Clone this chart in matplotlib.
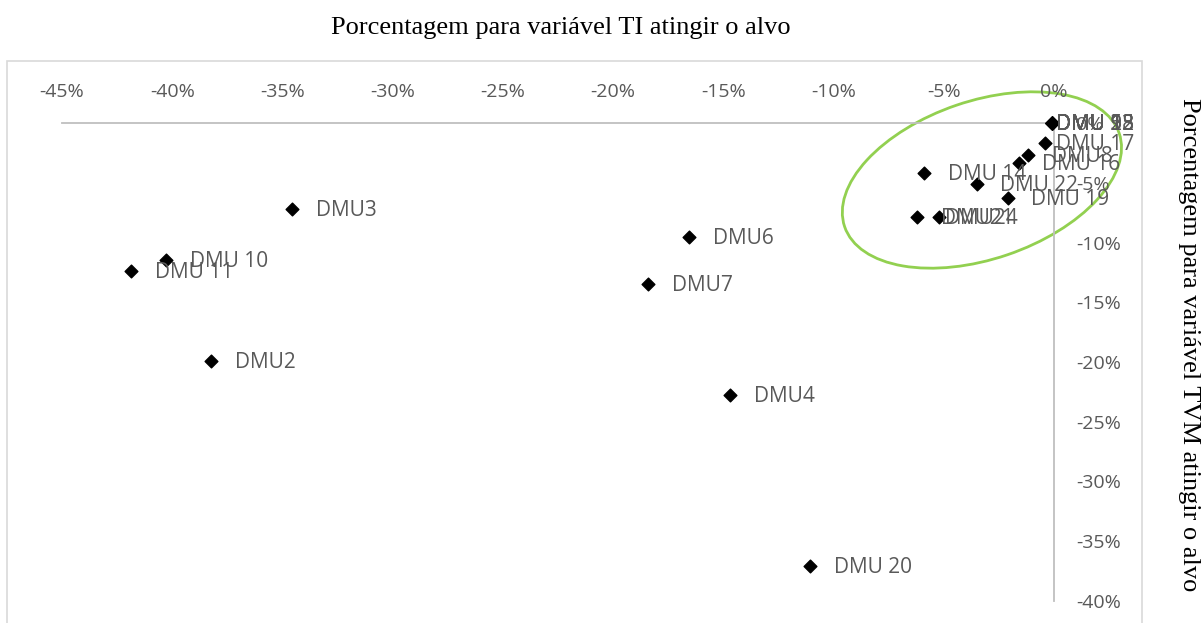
import matplotlib.pyplot as plt
from matplotlib.patches import Ellipse, Rectangle
from matplotlib.transforms import ScaledTranslation
from matplotlib.ticker import PercentFormatter

plt.rcParams['axes.unicode_minus'] = False

# dados: percentual para TI (x) e TVM (y) atingirem o alvo
dmu = ['DMU3', 'DMU 10', 'DMU 11', 'DMU2', 'DMU6', 'DMU7', 'DMU4', 'DMU 20',
       'DMU 14', 'DMU 22', 'DMU 19', 'DMU 17', 'DMU8', 'DMU 16', 'DMU21', 'DMU24',
       'DMU 1', 'DMU 5', 'DMU 9', 'DMU 12', 'DMU 13', 'DMU 15', 'DMU 18', 'DMU 23']
ti = [-0.3456, -0.4026, -0.4185, -0.3822, -0.1654, -0.1840, -0.1470, -0.1106,
      -0.0590, -0.0350, -0.0210, -0.0043, -0.0116, -0.0161, -0.0620, -0.0520,
      -0.001, -0.001, -0.001, -0.001, -0.001, -0.001, -0.001, -0.001]
tvm = [-0.0719, -0.1145, -0.1237, -0.1990, -0.0953, -0.1346, -0.2280, -0.3704,
       -0.0418, -0.0510, -0.0627, -0.0167, -0.0268, -0.0334, -0.0786, -0.0786,
       0, 0, 0, 0, 0, 0, 0, 0]

xticks = [-0.45, -0.40, -0.35, -0.30, -0.25, -0.20, -0.15, -0.10, -0.05, 0]
yticks = [0, -0.05, -0.10, -0.15, -0.20, -0.25, -0.30, -0.35, -0.40]

cinza = '#595959'
fig = plt.figure(figsize=(12.02, 6.23), dpi=100)
ax = fig.add_axes([62 / 1202, 22 / 623, (1054 - 62) / 1202, (601 - 123) / 623])

# borda da área do gráfico
fig.patches.append(Rectangle((7 / 1202, -0.01), (1142 - 7) / 1202, (623 - 61) / 623 + 0.01,
                             transform=fig.transFigure, fill=False,
                             edgecolor='#D9D9D9', linewidth=1.2))

ax.scatter(ti, tvm, marker='D', s=42, color='black', zorder=3, clip_on=False)

# deslocamento dos rótulos (pontos)
desloc = {'DMU 17': 8, 'DMU24': 4}
for i, nome in enumerate(dmu):
    dx = desloc.get(nome, 17)
    if tvm[i] == 0:
        dx = 3
    ax.annotate(nome, (ti[i], tvm[i]), xytext=(dx, -1), textcoords='offset points',
                ha='left', va='center', fontsize=15, color=cinza,
                fontfamily='Open Sans', annotation_clip=False)

ax.set_xlim(-0.45, 0)
ax.set_ylim(-0.40, 0)
ax.set_xticks(xticks)
ax.set_yticks(yticks)
ax.xaxis.set_major_formatter(PercentFormatter(1.0, decimals=0))
ax.yaxis.set_major_formatter(PercentFormatter(1.0, decimals=0))
ax.xaxis.tick_top()
ax.yaxis.tick_right()
ax.tick_params(length=0, labelsize=14, labelcolor=cinza)
ax.tick_params(axis='x', pad=16)
ax.tick_params(axis='y', pad=16)
for t in ax.get_xticklabels() + ax.get_yticklabels():
    t.set_fontfamily('Open Sans')
for s in ['left', 'bottom']:
    ax.spines[s].set_visible(False)
for s in ['top', 'right']:
    ax.spines[s].set_color('#BFBFBF')
    ax.spines[s].set_linewidth(1.3)
ax.patch.set_alpha(0)

# elipse verde destacando o grupo próximo da origem
tr = fig.dpi_scale_trans + ScaledTranslation(-0.0327, -0.0477, ax.transData)
ax.add_patch(Ellipse((0, 0), 2.90, 1.58, angle=18.8, transform=tr, fill=False,
                     edgecolor='#92D050', linewidth=2, clip_on=False))

fig.text(561 / 1202, 1 - 28 / 623, 'Porcentagem para variável TI atingir o alvo',
         ha='center', va='center', fontsize=19, fontfamily='Liberation Serif')
fig.text(1189 / 1202, 1 - 345 / 623, 'Porcentagem para variável TVM atingir o alvo',
         ha='center', va='center', rotation=-90, fontsize=19,
         fontfamily='Liberation Serif')

fig.savefig('out.png', dpi=100)
